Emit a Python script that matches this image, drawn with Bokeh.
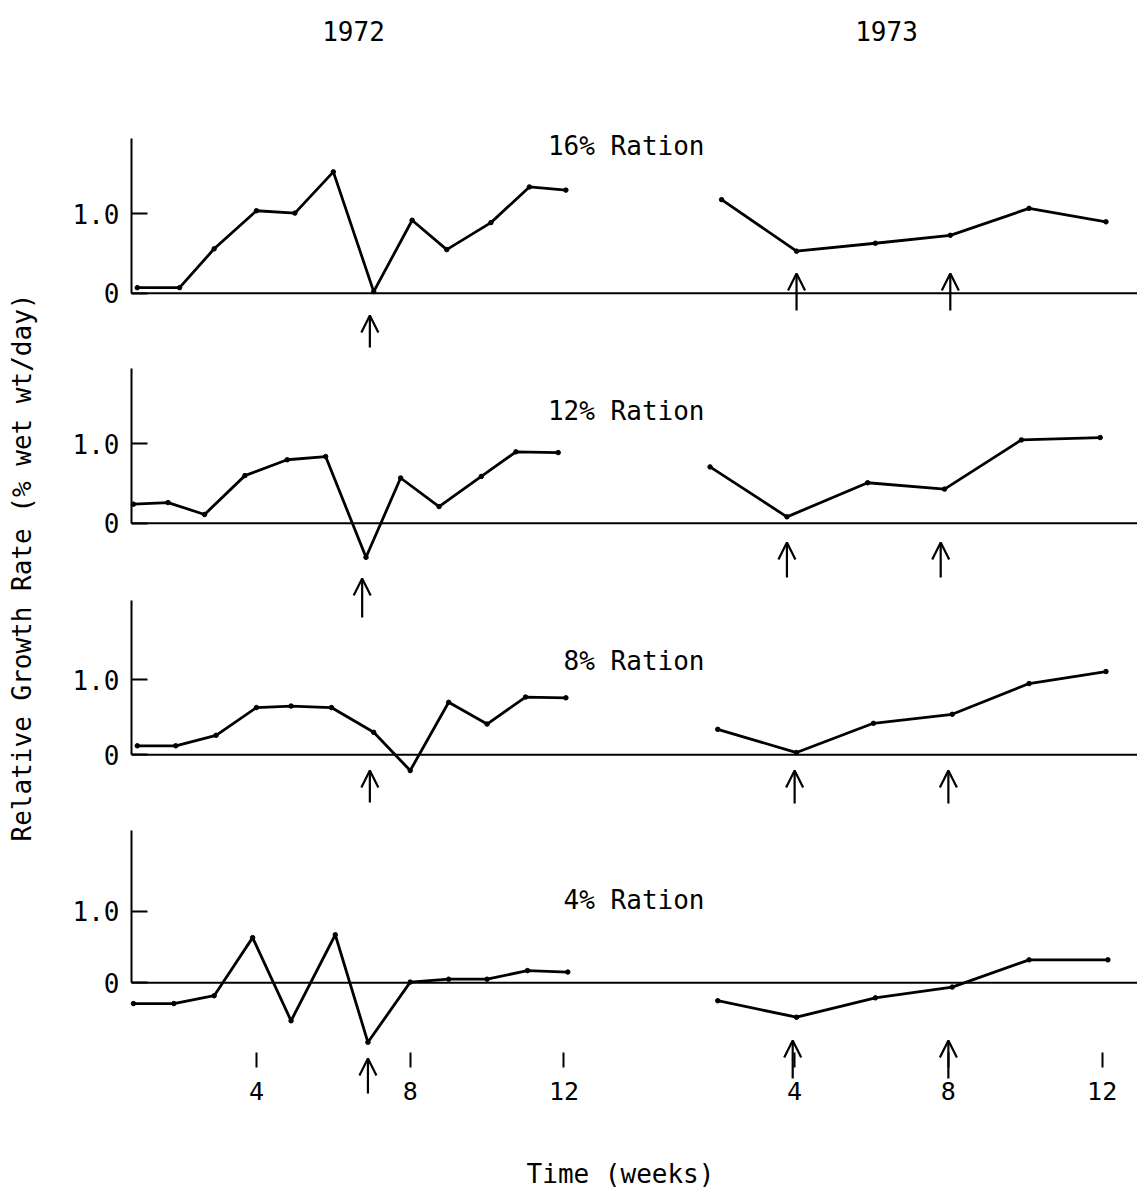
import numpy as np
from bokeh.plotting import figure
from bokeh.models import (Range1d, LinearAxis, FixedTicker, ColumnDataSource,
                          Arrow, OpenHead)
from bokeh.core.properties import value
from bokeh.embed import file_html
from bokeh.resources import INLINE

# ------------------------------------------------------------------ data
year_labels = ["1972", "1973"]
ration_labels = ["16% Ration", "12% Ration", "8% Ration", "4% Ration"]
panel_keys = ["16", "12", "8", "4"]

weeks_1972_16 = [0.9, 2.0, 2.9, 4.0, 5.0, 6.0, 7.05, 8.05, 8.95, 10.1, 11.1, 12.05]
rgr_1972_16 = [0.07, 0.07, 0.56, 1.04, 1.01, 1.53, 0.02, 0.92, 0.55, 0.89, 1.34, 1.30]
weeks_1973_16 = [2.1, 4.05, 6.1, 8.05, 10.1, 12.1]
rgr_1973_16 = [1.18, 0.53, 0.63, 0.73, 1.07, 0.90]

weeks_1972_12 = [0.8, 1.7, 2.65, 3.7, 4.8, 5.8, 6.85, 7.75, 8.75, 9.85, 10.75, 11.85]
rgr_1972_12 = [0.24, 0.26, 0.11, 0.60, 0.80, 0.84, -0.43, 0.57, 0.21, 0.59, 0.90, 0.89]
weeks_1973_12 = [1.8, 3.8, 5.9, 7.9, 9.9, 11.95]
rgr_1973_12 = [0.71, 0.08, 0.51, 0.43, 1.05, 1.08]

weeks_1972_8 = [0.9, 1.9, 2.95, 4.0, 4.9, 5.95, 7.05, 8.0, 9.0, 10.0, 11.0, 12.05]
rgr_1972_8 = [0.12, 0.12, 0.26, 0.63, 0.65, 0.63, 0.30, -0.21, 0.70, 0.41, 0.77, 0.76]
weeks_1973_8 = [2.0, 4.05, 6.05, 8.1, 10.1, 12.1]
rgr_1973_8 = [0.34, 0.03, 0.42, 0.54, 0.95, 1.11]

weeks_1972_4 = [0.8, 1.85, 2.9, 3.9, 4.9, 6.05, 6.9, 8.0, 9.0, 10.0, 11.05, 12.1]
rgr_1972_4 = [-0.29, -0.29, -0.18, 0.63, -0.53, 0.67, -0.83, 0.01, 0.05, 0.05, 0.17, 0.15]
weeks_1973_4 = [2.0, 4.05, 6.1, 8.1, 10.1, 12.15]
rgr_1973_4 = [-0.25, -0.48, -0.21, -0.06, 0.32, 0.32]

# weeks marked by an arrow
arrow_weeks_1972 = {"16": [6.95], "12": [6.75], "8": [6.95], "4": [6.9]}
arrow_weeks_1973 = {"16": [4.05, 8.05], "12": [3.8, 7.8], "8": [4.0, 8.0], "4": [3.95, 8.0]}

x_tick_weeks = [4, 8, 12]
y_tick_values = [0, 1]
y_tick_labels = ["0", "1.0"]

series = {
    "16": (weeks_1972_16, rgr_1972_16, weeks_1973_16, rgr_1973_16),
    "12": (weeks_1972_12, rgr_1972_12, weeks_1973_12, rgr_1973_12),
    "8": (weeks_1972_8, rgr_1972_8, weeks_1973_8, rgr_1973_8),
    "4": (weeks_1972_4, rgr_1972_4, weeks_1973_4, rgr_1973_4),
}

# ------------------------------------------------------------------ layout (pixels)
W, H = 1137, 1189
PX_PER_WEEK = 38.44
WEEK0_PX = 102.2
YEAR_OFFSET = 14          # 1973 is drawn 14 week-units to the right of 1972
AXIS_PX = 131
ZERO_END_PX = 1137
LABEL_RIGHT_PX = 704

layout = {
    # zero line px, px per unit, axis top px, arrow 1972 (top,bottom), arrow 1973 (top,bottom), label y
    "16": dict(zero=292.7, unit=79.3, top=138, a72=(315, 347), a73=(273, 310), label=145),
    "12": dict(zero=522.7, unit=79.3, top=368, a72=(578, 617), a73=(542, 577), label=410),
    "8": dict(zero=754.3, unit=75.0, top=600, a72=(770, 802), a73=(770, 803), label=660),
    "4": dict(zero=982.3, unit=71.7, top=830, a72=(1058, 1093), a73=(1040, 1078), label=899),
}
XTICK_TOP_PX = 1052

FONT = value("DejaVu Sans Mono")


def wk(px):
    return (px - WEEK0_PX) / PX_PER_WEEK


def pv(key, py):
    L = layout[key]
    return (L["zero"] - py) / L["unit"]


extra_y = {}
for k in panel_keys:
    L = layout[k]
    extra_y["p" + k] = Range1d(start=(L["zero"] - H) / L["unit"], end=L["zero"] / L["unit"])

p = figure(width=W, height=H,
           x_range=Range1d(wk(0), wk(W)), y_range=Range1d(0, H),
           x_axis_type=None, y_axis_type=None,
           toolbar_location=None, output_backend="svg",
           min_border=0, min_border_left=0, min_border_right=0,
           min_border_top=0, min_border_bottom=0,
           outline_line_color=None, background_fill_color="white",
           border_fill_color="white")
p.extra_y_ranges = extra_y
p.extra_x_ranges = {"px": Range1d(0, W)}

axis_x = wk(AXIS_PX)

for k in panel_keys:
    L = layout[k]
    rn = "p" + k
    w72, v72, w73, v73 = series[k]
    x73 = list(np.array(w73) + YEAR_OFFSET)

    # zero line across both years
    p.segment(x0=[axis_x], y0=[0], x1=[wk(ZERO_END_PX)], y1=[0],
              line_color="black", line_width=2, y_range_name=rn)

    for xs, ys in ((w72, v72), (x73, v73)):
        p.line(xs, ys, line_color="black", line_width=2.8, y_range_name=rn)
        p.scatter(xs, ys, size=4.5, color="black", y_range_name=rn)

    # y axis
    ax = LinearAxis(y_range_name=rn, fixed_location=axis_x,
                    bounds=(0, pv(k, L["top"])),
                    ticker=FixedTicker(ticks=y_tick_values),
                    major_label_overrides=dict(zip(y_tick_values, y_tick_labels)),
                    major_tick_in=16, major_tick_out=0,
                    minor_tick_in=0, minor_tick_out=0,
                    axis_line_width=2, axis_line_color="black",
                    major_tick_line_width=2, major_tick_line_color="black",
                    major_label_standoff=12,
                    major_label_text_font="DejaVu Sans Mono",
                    major_label_text_font_size="26px",
                    major_label_text_color="black")
    p.add_layout(ax, "left")

    # arrows
    ax72 = arrow_weeks_1972[k]
    ax73 = [w + YEAR_OFFSET for w in arrow_weeks_1973[k]]
    xs = ax72 + ax73
    y_top = [pv(k, L["a72"][0])] * len(ax72) + [pv(k, L["a73"][0])] * len(ax73)
    y_bot = [pv(k, L["a72"][1])] * len(ax72) + [pv(k, L["a73"][1])] * len(ax73)
    src = ColumnDataSource(dict(x=xs, y0=y_bot, y1=y_top))
    p.add_layout(Arrow(end=OpenHead(size=17, line_width=2.2, line_color="black"),
                       x_start="x", y_start="y0", x_end="x", y_end="y1",
                       source=src, line_width=2.2, line_color="black",
                       y_range_name=rn))

# ration labels
p.text(x=[LABEL_RIGHT_PX] * 4, y=[H - layout[k]["label"] for k in panel_keys],
       text=ration_labels, x_range_name="px",
       text_align="right", text_baseline="middle",
       text_font=FONT, text_font_size=value("26px"), text_color="black")

# year headings
p.text(x=[353, 886], y=[H - 30, H - 30], text=year_labels, x_range_name="px",
       text_align="center", text_baseline="middle",
       text_font=FONT, text_font_size=value("26px"), text_color="black")

# y label
p.text(x=[21], y=[H - 567], text=["Relative Growth Rate (% wet wt/day)"],
       x_range_name="px", angle=np.pi / 2,
       text_align="center", text_baseline="middle",
       text_font=FONT, text_font_size=value("26px"), text_color="black")

# x label
p.text(x=[620], y=[H - 1173], text=["Time (weeks)"], x_range_name="px",
       text_align="center", text_baseline="middle",
       text_font=FONT, text_font_size=value("26px"), text_color="black")

# x axis (bottom, both years)
xticks = x_tick_weeks + [w + YEAR_OFFSET for w in x_tick_weeks]
xlabels = [str(w) for w in x_tick_weeks] * 2
xax = LinearAxis(y_range_name="p4", fixed_location=pv("4", XTICK_TOP_PX),
                 ticker=FixedTicker(ticks=xticks),
                 major_label_overrides=dict(zip(xticks, xlabels)),
                 axis_line_color=None,
                 major_tick_in=0, major_tick_out=15,
                 minor_tick_in=0, minor_tick_out=0,
                 major_tick_line_width=2, major_tick_line_color="black",
                 major_label_standoff=14,
                 major_label_text_font="DejaVu Sans Mono",
                 major_label_text_font_size="25px",
                 major_label_text_color="black")
p.add_layout(xax, "below")

open("out.html", "w").write(file_html(p, INLINE))
